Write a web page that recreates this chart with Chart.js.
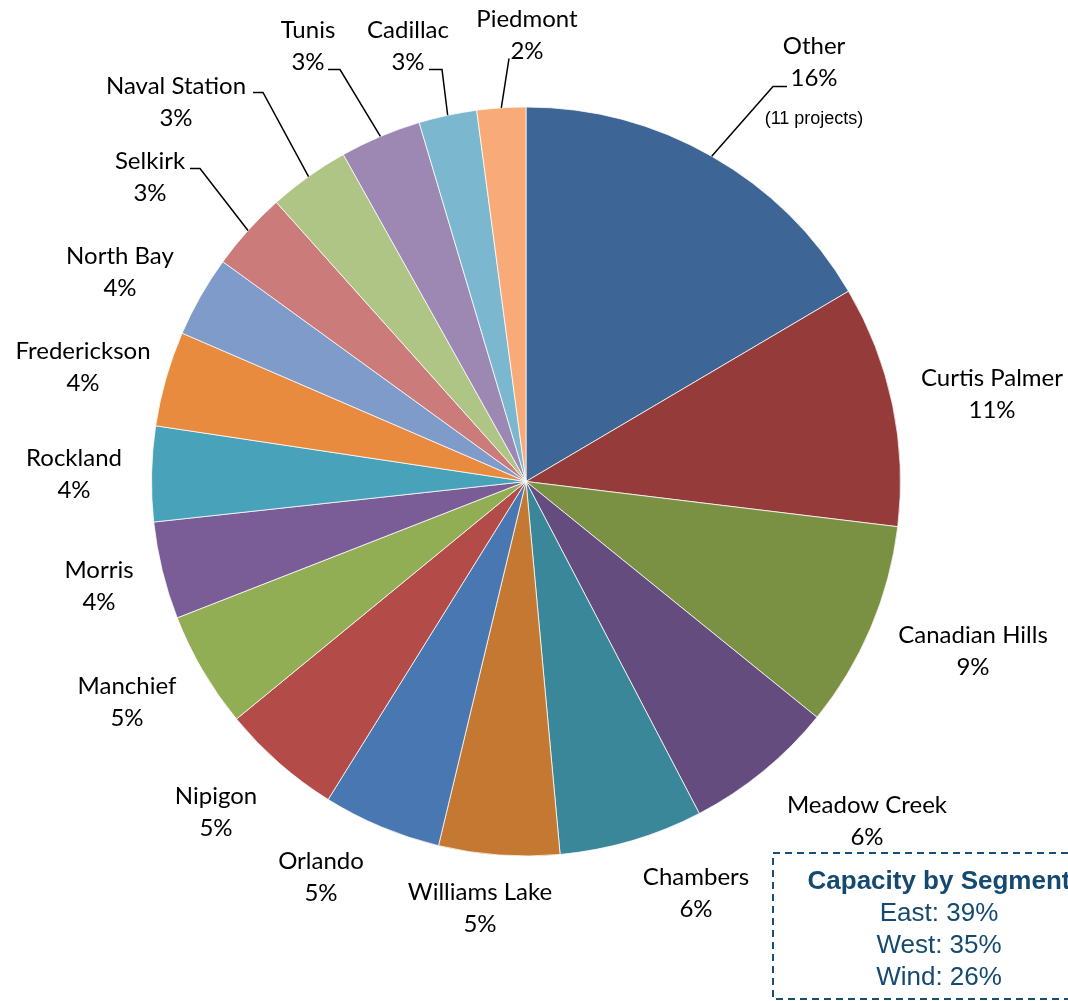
<!DOCTYPE html>
<html lang="en">
<head>
<meta charset="UTF-8">
<title>Capacity by Project</title>
<script src="https://cdn.jsdelivr.net/npm/chart.js@4.4.1/dist/chart.umd.min.js"></script>
<style>
    body { margin: 0; background: #fff; }
    canvas { display: block; }
</style>
</head>
<body>
<canvas id="myChart" width="1068" height="1001"></canvas>
<script>
const projects = ['Other', 'Curtis Palmer', 'Canadian Hills', 'Meadow Creek', 'Chambers', 'Williams Lake',
    'Orlando', 'Nipigon', 'Manchief', 'Morris', 'Rockland', 'Frederickson', 'North Bay', 'Selkirk',
    'Naval Station', 'Tunis', 'Cadillac', 'Piedmont'];
const shares = [16.5, 10.4, 8.9, 6.5, 6.2, 5.2, 5.1, 5.2, 5.0, 4.2, 4.1, 4.1, 3.5, 3.4, 3.5, 3.5, 2.5, 2.1];
const shareLabels = ['16%', '11%', '9%', '6%', '6%', '5%', '5%', '5%', '5%', '4%', '4%', '4%', '4%', '3%',
    '3%', '3%', '3%', '2%'];
const otherNote = '(11 projects)';
const segmentTitle = 'Capacity by Segment';
const segments = ['East: 39%', 'West: 35%', 'Wind: 26%'];

const colors = ['#3D6596', '#953C3B', '#7A9143', '#644D7E', '#3A8799', '#C47832', '#4977B1', '#B34B48',
    '#92AE55', '#7A5D96', '#47A2BA', '#E88B3F', '#7F9BC9', '#CB7C7A', '#AFC585', '#9C88B3', '#7BB8CF', '#F8AA78'];

// label anchor (centre x, first baseline) relative to the pie centre
const labelAt = [
    [288, -428], [466, -96], [447, 161], [341, 331], [170, 403], [-46, 418], [-205, 387], [-310, 322],
    [-399, 212], [-427, 96], [-452, -16], [-443, -123], [-406, -218], [-376, -313], [-350, -388],
    [-218, -444], [-118, -444], [1, -455]
];
// leader lines: elbow then end, relative to pie centre
const leaders = {
    0: [[247, -395], [261, -395]],
    13: [[-326, -313], [-336, -313]],
    14: [[-263, -389], [-273, -389]],
    15: [[-186, -412], [-198, -412]],
    16: [[-84, -412], [-97, -412]],
    17: [[-17, -423]]
};

const labelFont = '24px Lato';
const lineGap = 32;

const pieLabels = {
    id: 'pieLabels',
    afterDatasetsDraw(chart) {
        const ctx = chart.ctx;
        const arcs = chart.getDatasetMeta(0).data;
        ctx.save();
        arcs.forEach((arc, i) => {
            const cx = arc.x, cy = arc.y;
            if (leaders[i]) {
                const mid = (arc.startAngle + arc.endAngle) / 2;
                ctx.beginPath();
                ctx.moveTo(cx + Math.cos(mid) * arc.outerRadius, cy + Math.sin(mid) * arc.outerRadius);
                leaders[i].forEach(p => ctx.lineTo(cx + p[0], cy + p[1]));
                ctx.strokeStyle = '#000';
                ctx.lineWidth = 1.5;
                ctx.stroke();
            }
            const x = cx + labelAt[i][0];
            const y = cy + labelAt[i][1];
            ctx.fillStyle = '#000';
            ctx.font = labelFont;
            ctx.textAlign = 'center';
            ctx.textBaseline = 'alphabetic';
            ctx.fillText(projects[i], x, y);
            ctx.fillText(shareLabels[i], x, y + lineGap);
            if (i === 0) {
                ctx.font = '18px "Liberation Sans", Arial';
                ctx.fillText(otherNote, x, y + 70);
            }
        });

        // segment summary box
        const bx = 773, by = 853;
        ctx.setLineDash([7, 5]);
        ctx.lineWidth = 2;
        ctx.strokeStyle = '#1A4D72';
        ctx.strokeRect(bx, by, 340, 146);
        ctx.setLineDash([]);
        ctx.fillStyle = '#154A70';
        ctx.textAlign = 'center';
        ctx.font = 'bold 26px "Liberation Sans", Arial';
        ctx.fillText(segmentTitle, 939, 889);
        ctx.font = '26px "Liberation Sans", Arial';
        segments.forEach((s, k) => ctx.fillText(s, 939, 921 + k * 32));
        ctx.restore();
    }
};

const ctx = document.getElementById('myChart').getContext('2d');
const chart = new Chart(ctx, {
    type: 'pie',
    data: {
        labels: projects,
        datasets: [{
            data: shares,
            backgroundColor: colors,
            borderColor: 'rgba(255,255,255,0.75)',
            borderWidth: 1
        }]
    },
    options: {
        responsive: false,
        animation: false,
        radius: 374.5,
        layout: { padding: { left: 0, right: 16, top: 0, bottom: 38 } },
        plugins: {
            legend: { display: false },
            tooltip: { enabled: false }
        }
    },
    plugins: [pieLabels]
});
</script>
</body>
</html>
